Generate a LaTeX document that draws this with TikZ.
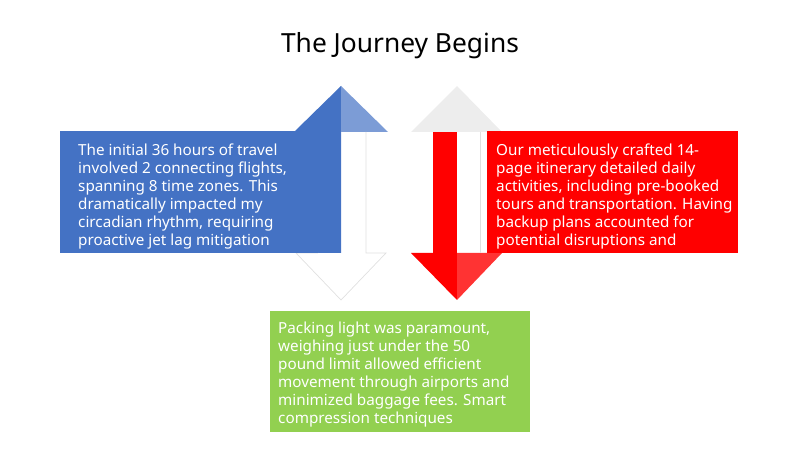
\documentclass[tikz,border=0pt]{standalone}
\usepackage{fontspec}
\setmainfont{Noto Sans}
\definecolor{bluebox}{HTML}{4472C4}
\definecolor{greenbox}{HTML}{92D050}
\begin{document}
\begin{tikzpicture}[
    x = 0.3mm, y = -0.3mm,
    box/.style = {anchor = north west, inner sep = 0pt, align = left,
        text = white, font = \fontsize{13}{15.3}\selectfont},
    arrowline/.style = {draw = black!12, line width = 0.6pt}
]
\useasboundingbox (0,0) rectangle (800,449);

% title
\node (title) at (400,46) {\fontsize{22.5}{26}\selectfont The Journey Begins};

% up arrow
\fill[bluebox] (341,86) -- (341,253) -- (318,253) -- (318,132) -- (294,132) -- cycle;
\fill[bluebox!70] (341,86) -- (388,132) -- (341,132) -- cycle;
\draw[arrowline] (366,132) -- (366,253) -- (386,253) -- (341,300) -- (296,253) -- (318,253);

% down arrow
\fill[black!7] (457,86) -- (502,132) -- (411,132) -- cycle;
\fill[red] (433,132) rectangle (457,253);
\fill[red] (457,253) -- (457,300) -- (411,253) -- cycle;
\fill[red!80] (457,253) -- (502,253) -- (457,300) -- cycle;
\draw[arrowline] (480,132) -- (480,253);

% boxes
\fill[bluebox] (60,131) rectangle (318,253);
\fill[red] (487,131) rectangle (738,253);
\fill[greenbox] (270,311) rectangle (530,432);

\begin{scope}
  \clip (60,131) rectangle (318,253);
  \node[box] (travel) at (78,144) {The initial 36 hours of travel\\involved 2 connecting flights,\\spanning 8 time zones. This\\dramatically impacted my\\circadian rhythm, requiring\\proactive jet lag mitigation};
\end{scope}
\begin{scope}
  \clip (487,131) rectangle (738,253);
  \node[box] (plan) at (496,144) {Our meticulously crafted 14-\\page itinerary detailed daily\\activities, including pre-booked\\tours and transportation. Having\\backup plans accounted for\\potential disruptions and};
\end{scope}
\begin{scope}
  \clip (270,311) rectangle (530,432);
  \node[box] (pack) at (278,322) {Packing light was paramount,\\weighing just under the 50\\pound limit allowed efficient\\movement through airports and\\minimized baggage fees. Smart\\compression techniques};
\end{scope}
\end{tikzpicture}
\end{document}
